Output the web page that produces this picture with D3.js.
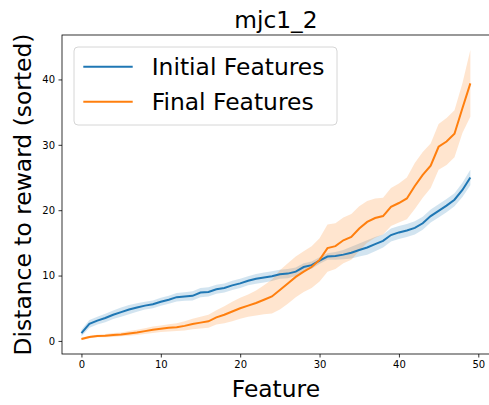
<!DOCTYPE html>
<html>
<head>
<meta charset="utf-8">
<script src="https://cdn.jsdelivr.net/npm/d3@7"></script>
<style>
  body { margin: 0; background: #fff; }
  svg { display: block; font-family: "DejaVu Sans", sans-serif; }
</style>
</head>
<body>
<div id="chart"></div>
<script>
// Feature index 0..49
const features = d3.range(50);

// Initial features: mean and spread
const initialMean = [1.2, 2.6, 3.1, 3.5, 4.0, 4.4, 4.8, 5.1, 5.4, 5.6,
  6.0, 6.3, 6.7, 6.8, 6.9, 7.4, 7.5, 7.9, 8.1, 8.5,
  8.8, 9.2, 9.5, 9.7, 9.9, 10.2, 10.3, 10.6, 11.3, 11.6,
  12.3, 12.9, 13.0, 13.2, 13.5, 13.9, 14.3, 14.8, 15.3, 16.2,
  16.6, 16.9, 17.3, 18.0, 19.1, 19.9, 20.7, 21.6, 23.1, 25.0];
const initialSpread = [0.5, 0.6, 0.6, 0.65, 0.65, 0.7, 0.7, 0.65, 0.6, 0.6,
  0.6, 0.6, 0.65, 0.65, 0.7, 0.7, 0.7, 0.7, 0.7, 0.7,
  0.7, 0.7, 0.75, 0.75, 0.75, 0.7, 0.7, 0.65, 0.6, 0.55,
  0.5, 0.5, 0.6, 0.7, 0.9, 1.0, 1.1, 1.1, 1.0, 1.0,
  1.0, 1.0, 1.0, 1.0, 1.0, 1.0, 1.0, 1.0, 1.1, 1.2];

// Final features: mean and spread
const finalMean = [0.3, 0.6, 0.75, 0.8, 0.9, 1.0, 1.15, 1.3, 1.5, 1.7,
  1.85, 2.0, 2.1, 2.3, 2.6, 2.8, 3.0, 3.6, 4.0, 4.5,
  5.0, 5.4, 5.8, 6.3, 6.8, 7.8, 8.8, 9.8, 10.6, 11.3,
  12.4, 14.2, 14.5, 15.4, 15.9, 17.2, 18.2, 18.8, 19.1, 20.5,
  21.1, 21.8, 23.7, 25.4, 26.8, 29.7, 30.5, 31.7, 35.6, 39.4];
const finalSpread = [0.2, 0.2, 0.2, 0.25, 0.3, 0.3, 0.35, 0.4, 0.45, 0.5,
  0.5, 0.55, 0.6, 0.7, 0.8, 0.9, 1.0, 1.1, 1.3, 1.5,
  1.6, 1.7, 1.9, 2.2, 2.6, 3.0, 3.1, 3.1, 3.1, 3.2,
  3.3, 3.6, 3.5, 3.5, 3.5, 3.4, 3.2, 3.0, 2.8, 2.9,
  3.0, 3.2, 3.5, 3.5, 3.4, 3.5, 3.6, 3.6, 3.8, 5.1];

const xTicks = [0, 10, 20, 30, 40, 50];
const yTicks = [0, 10, 20, 30, 40];

const width = 489, height = 405;
const plot = { left: 62, top: 35, right: 489.8, bottom: 354 };

const svg = d3.select("#chart").append("svg")
  .attr("width", width)
  .attr("height", height);

const x = d3.scaleLinear().domain([-2.45, 51.45]).range([plot.left, plot.right]);
const y = d3.scaleLinear().domain([-2.0, 46.8]).range([plot.bottom, plot.top]);

const series = [
  { name: "Initial Features", mean: initialMean, spread: initialSpread, color: "#1f77b4" },
  { name: "Final Features", mean: finalMean, spread: finalSpread, color: "#ff7f0e" }
];

const area = d3.area()
  .x(d => x(d.i))
  .y0(d => y(d.m - d.s))
  .y1(d => y(d.m + d.s));

const line = d3.line()
  .x(d => x(d.i))
  .y(d => y(d.m));

const g = svg.append("g");

// bands first, then lines
series.forEach(s => {
  const pts = features.map(i => ({ i: i, m: s.mean[i], s: s.spread[i] }));
  g.append("path")
    .attr("d", area(pts))
    .attr("fill", s.color)
    .attr("fill-opacity", 0.2);
});
series.forEach(s => {
  const pts = features.map(i => ({ i: i, m: s.mean[i] }));
  g.append("path")
    .attr("d", line(pts))
    .attr("fill", "none")
    .attr("stroke", s.color)
    .attr("stroke-width", 2);
});

// axes
const xAxis = svg.append("g")
  .attr("transform", `translate(0,${plot.bottom})`)
  .call(d3.axisBottom(x).tickValues(xTicks).tickSize(3.5).tickPadding(3.5));
const yAxis = svg.append("g")
  .attr("transform", `translate(${plot.left},0)`)
  .call(d3.axisLeft(y).tickValues(yTicks).tickSize(3.5).tickPadding(3.5));

[xAxis, yAxis].forEach(a => {
  a.select(".domain").remove();
  a.selectAll("text").attr("font-size", 10).attr("fill", "#000")
    .attr("font-family", "DejaVu Sans, sans-serif");
  a.selectAll("line").attr("stroke", "#000").attr("stroke-width", 0.8);
});

// frame
svg.append("rect")
  .attr("x", plot.left)
  .attr("y", plot.top)
  .attr("width", plot.right - plot.left)
  .attr("height", plot.bottom - plot.top)
  .attr("fill", "none")
  .attr("stroke", "#000")
  .attr("stroke-width", 0.8);

// title and labels
svg.append("text")
  .attr("x", (plot.left + plot.right) / 2)
  .attr("y", 28.3)
  .attr("text-anchor", "middle")
  .attr("font-size", 23.3)
  .text("mjc1_2");

svg.append("text")
  .attr("x", (plot.left + plot.right) / 2)
  .attr("y", 397)
  .attr("text-anchor", "middle")
  .attr("font-size", 23.4)
  .text("Feature");

svg.append("text")
  .attr("transform", `translate(30.5,${(plot.top + plot.bottom) / 2}) rotate(-90)`)
  .attr("text-anchor", "middle")
  .attr("font-size", 23.4)
  .text("Distance to reward (sorted)");

// legend
const legend = svg.append("g").attr("transform", "translate(74,47)");
legend.append("rect")
  .attr("width", 263)
  .attr("height", 78)
  .attr("rx", 4)
  .attr("fill", "#fff")
  .attr("fill-opacity", 0.8)
  .attr("stroke", "#ccc")
  .attr("stroke-width", 0.8);

series.forEach((s, k) => {
  const ly = 19.7 + k * 35;
  legend.append("line")
    .attr("x1", 9.3).attr("x2", 58.7)
    .attr("y1", ly).attr("y2", ly)
    .attr("stroke", s.color)
    .attr("stroke-width", 2);
  legend.append("text")
    .attr("x", 77.7)
    .attr("y", ly + 8.3)
    .attr("font-size", 23.4)
    .text(s.name);
});
</script>
</body>
</html>
